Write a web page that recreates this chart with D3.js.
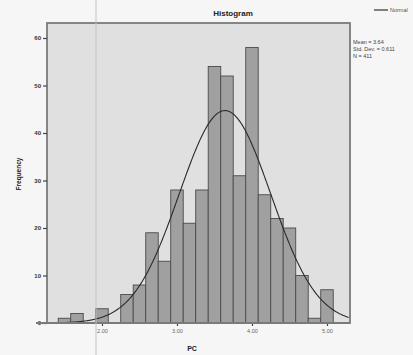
<!DOCTYPE html>
<html>
<head>
<meta charset="utf-8">
<script src="https://cdn.jsdelivr.net/npm/d3@7/dist/d3.min.js"></script>
<style>
  html, body { margin: 0; padding: 0; background: #f6f6f6; }
  svg { display: block; font-family: "Liberation Sans", Arial, sans-serif; }
</style>
</head>
<body>
<svg id="chart" width="413" height="355"></svg>
<script>
// Histogram of PC scores (bin width 1/6) with fitted normal curve
const binCenters = [1.5, 1.6667, 1.8333, 2.0, 2.1667, 2.3333, 2.5, 2.6667, 2.8333, 3.0, 3.1667,
                    3.3333, 3.5, 3.6667, 3.8333, 4.0, 4.1667, 4.3333, 4.5, 4.6667, 4.8333, 5.0];
const counts = [1, 2, 0, 3, 0, 6, 8, 19, 13, 28, 21, 28, 54, 52, 31, 58, 27, 22, 20, 10, 1, 7];
const binWidth = 1 / 6;
const xTicks = [2, 3, 4, 5];
const yTicks = [0, 10, 20, 30, 40, 50, 60];
const stats = { mean: 3.64, sd: 0.611, n: 411 };
const statLabels = ["Mean = 3.64", "Std. Dev. = 0.611", "N = 411"];

const svg = d3.select("#chart");
const frame = { left: 47, right: 350, top: 23, bottom: 323 };

const x = d3.scaleLinear().domain([1.267, 5.307]).range([frame.left, frame.right]);
const y = d3.scaleLinear().domain([0, 60]).range([323, 38]);

// plot background
svg.append("rect")
  .attr("x", frame.left).attr("y", frame.top)
  .attr("width", frame.right - frame.left).attr("height", frame.bottom - frame.top)
  .attr("fill", "#e0e0e0");

// bars
svg.append("g").selectAll("rect")
  .data(binCenters.map((c, i) => ({ c, n: counts[i] })).filter(d => d.n > 0))
  .join("rect")
  .attr("x", d => x(d.c - binWidth / 2))
  .attr("width", d => x(d.c + binWidth / 2) - x(d.c - binWidth / 2))
  .attr("y", d => y(d.n))
  .attr("height", d => y(0) - y(d.n))
  .attr("fill", "#a0a0a0")
  .attr("stroke", "#4a4a4a")
  .attr("stroke-width", 0.9);

// normal curve scaled to counts
const pdf = v => stats.n * binWidth / (stats.sd * Math.sqrt(2 * Math.PI)) *
  Math.exp(-0.5 * ((v - stats.mean) / stats.sd) ** 2);
const curvePts = d3.range(1.30, 5.30, 0.01);
svg.append("path")
  .datum(curvePts)
  .attr("d", d3.line().x(v => x(v)).y(v => y(pdf(v))).curve(d3.curveBasis))
  .attr("fill", "none")
  .attr("stroke", "#2a2a2a")
  .attr("stroke-width", 1.1);

// frame border
svg.append("rect")
  .attr("x", frame.left).attr("y", frame.top)
  .attr("width", frame.right - frame.left).attr("height", frame.bottom - frame.top)
  .attr("fill", "none")
  .attr("stroke", "#7a7a7a")
  .attr("stroke-width", 1.8);

// y axis
const yAxis = svg.append("g")
  .attr("transform", `translate(${frame.left},0)`)
  .call(d3.axisLeft(y).tickValues(yTicks).tickSize(4).tickPadding(2));
yAxis.select(".domain").remove();
yAxis.selectAll("line").attr("stroke", "#444").attr("stroke-width", 1.2);
yAxis.selectAll("text").attr("font-size", 6).attr("fill", "#333").attr("font-weight", "bold");

// x axis
const xAxis = svg.append("g")
  .attr("transform", `translate(0,${frame.bottom})`)
  .call(d3.axisBottom(x).tickValues(xTicks).tickFormat(d3.format(".2f")).tickSize(3).tickPadding(3));
xAxis.select(".domain").remove();
xAxis.selectAll("line").attr("stroke", "#444").attr("stroke-width", 1.2);
xAxis.selectAll("text").attr("font-size", 5.5).attr("fill", "#666");

// baseline extending left of the frame
svg.append("line")
  .attr("x1", 36).attr("x2", frame.right)
  .attr("y1", frame.bottom).attr("y2", frame.bottom)
  .attr("stroke", "#7a7a7a").attr("stroke-width", 1.8);

// faint vertical rule across the page
svg.append("line")
  .attr("x1", 96).attr("x2", 96).attr("y1", 0).attr("y2", 355)
  .attr("stroke", "#c4c4c4").attr("stroke-width", 1);

// title and axis titles
svg.append("text")
  .attr("x", 233).attr("y", 16)
  .attr("text-anchor", "middle")
  .attr("font-size", 8).attr("font-weight", "bold").attr("fill", "#222")
  .text("Histogram");

svg.append("text")
  .attr("x", 192).attr("y", 351)
  .attr("text-anchor", "middle")
  .attr("font-size", 7).attr("font-weight", "bold").attr("fill", "#222")
  .text("PC");

svg.append("text")
  .attr("transform", "translate(21,174) rotate(-90)")
  .attr("text-anchor", "middle")
  .attr("font-size", 6.5).attr("font-weight", "bold").attr("fill", "#222")
  .text("Frequency");

// legend
svg.append("line")
  .attr("x1", 374).attr("x2", 388).attr("y1", 10).attr("y2", 10)
  .attr("stroke", "#333").attr("stroke-width", 1.2);
svg.append("text")
  .attr("x", 390).attr("y", 12)
  .attr("font-size", 5.5).attr("fill", "#555")
  .text("Normal");

svg.append("g").selectAll("text")
  .data(statLabels)
  .join("text")
  .attr("x", 353)
  .attr("y", (d, i) => 44 + i * 7)
  .attr("font-size", 5.5).attr("fill", "#444")
  .text(d => d);
</script>
</body>
</html>
